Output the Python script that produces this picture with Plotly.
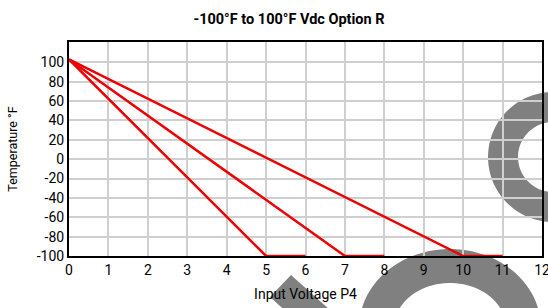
import plotly.graph_objects as go
import numpy as np

# ---- data ----
x_line_a = [0, 5, 6]
y_line_a = [103, -100, -100]
x_line_b = [0, 7, 8]
y_line_b = [103, -100, -100]
x_line_c = [0, 10, 11]
y_line_c = [103, -100, -100]
x_ticks = list(range(0, 13))
y_ticks = list(range(-100, 101, 20))

title_text = "-100°F to 100°F Vdc Option R"
x_title = "Input Voltage P4"
y_title = "Temperature °F"

FONT = "Roboto, Liberation Sans, Arial, sans-serif"
RED = "#ee0000"

# ---- layout geometry (pixels) ----
W, H = 548, 308
ML, MR, MT, MB = 69, 6, 42, 52
PW, PH = W - ML - MR, H - MT - MB


def px2paper(px, py):
    return (px - ML) / PW, (H - MB - py) / PH


def ellipse_pts(cx, cy, rx, ry, reverse=False, n=90):
    t = np.linspace(0, 2 * np.pi, n, endpoint=False)
    if reverse:
        t = t[::-1]
    return [px2paper(cx + rx * np.cos(a), cy + ry * np.sin(a)) for a in t]


def path_from(pts):
    s = "M {:.4f},{:.4f} ".format(*pts[0])
    s += " ".join("L {:.4f},{:.4f}".format(*p) for p in pts[1:])
    return s + " Z "


def ring_path(cx, cy, rx, ry, irx, iry):
    return path_from(ellipse_pts(cx, cy, rx, ry)) + path_from(
        ellipse_pts(cx, cy, irx, iry, reverse=True))


WM = "#808080"
shapes = [
    dict(type="path", xref="paper", yref="paper", layer="below",
         path=ring_path(450, 328, 91, 79, 56, 45), fillcolor=WM, line=dict(width=0)),
    dict(type="path", xref="paper", yref="paper", layer="below",
         path=ring_path(553, 157, 65, 65, 35, 35), fillcolor=WM, line=dict(width=0)),
    dict(type="path", xref="paper", yref="paper", layer="below",
         path=path_from([px2paper(270, 297), px2paper(291, 275),
                         px2paper(330, 310), px2paper(309, 332)]),
         fillcolor=WM, line=dict(width=0)),
]

fig = go.Figure()
for xs, ys in [(x_line_a, y_line_a), (x_line_b, y_line_b), (x_line_c, y_line_c)]:
    fig.add_trace(go.Scatter(x=xs, y=ys, mode="lines",
                             line=dict(color=RED, width=2.5),
                             showlegend=False, hoverinfo="skip", cliponaxis=False))

fig.update_layout(
    width=W, height=H,
    margin=dict(l=ML, r=MR, t=MT, b=MB, pad=0, autoexpand=False),
    paper_bgcolor="white",
    plot_bgcolor="rgba(0,0,0,0)",
    font=dict(family=FONT, color="black", size=14),
    title=dict(text="<b>" + title_text + "</b>", xref="paper", x=(289 - ML) / PW,
               xanchor="center", yref="container",
               y=1 - 19 / H, yanchor="middle", font=dict(size=14.5, family=FONT)),
    shapes=shapes,
    showlegend=False,
)
fig.update_xaxes(
    range=[0, 12], tickvals=x_ticks, ticktext=[str(v) for v in x_ticks],
    showgrid=True, gridcolor="#cfcfcf", gridwidth=1.5,
    showline=True, linecolor="black", linewidth=2, mirror=True,
    ticks="", zeroline=False, automargin=False, layer="below traces",
    ticklabeloverflow="allow",
    title=dict(text=x_title, standoff=12, font=dict(size=14)),
    tickfont=dict(size=14),
)
fig.update_yaxes(
    range=[-100, 121], tickvals=y_ticks, ticktext=[str(v) for v in y_ticks],
    showgrid=True, gridcolor="#cfcfcf", gridwidth=1.5,
    showline=True, linecolor="black", linewidth=2, mirror=True,
    ticks="", zeroline=False, automargin=False, layer="below traces",
    title=dict(text=y_title, standoff=16, font=dict(size=12.5)),
    tickfont=dict(size=14),
)

fig.write_html("out.html", config={"displayModeBar": False},
               post_script="document.body.style.margin='0';document.body.style.overflow='hidden';")
